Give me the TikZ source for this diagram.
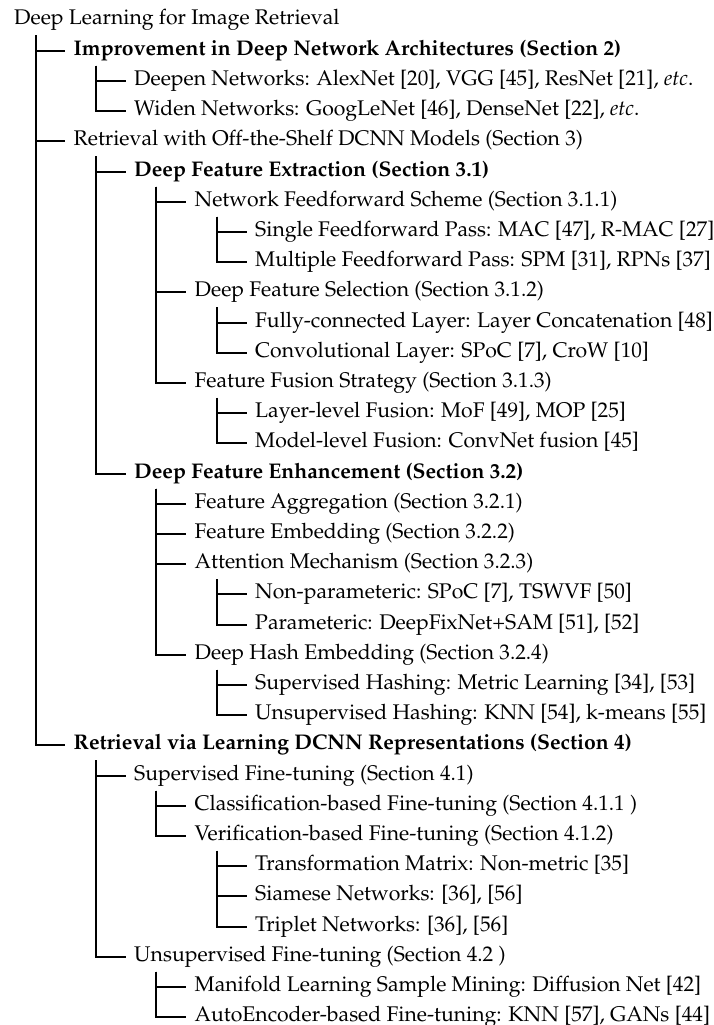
\documentclass[tikz,border=0pt]{standalone}
\usepackage[T1]{fontenc}
\usepackage{mathpazo}
\usetikzlibrary{calc}
\tikzset{
  lab/.style={anchor=west, inner xsep=8.5pt, inner ysep=0pt, text height=13.5pt, text depth=4.5pt, font=\fontsize{21.2}{25}\selectfont},
  tree/.style={line width=2pt, draw=black}
}
\begin{document}
\begin{tikzpicture}[x=1pt, y=-1pt]
\useasboundingbox (0,0) rectangle (714,1025);
\clip (0,0) rectangle (714,1025);
\node[lab] (n1) at (5.5,20.5) {Deep Learning for Image Retrieval};
\node[lab] (n2) at (65,50.7) {\textbf{Improvement in Deep Network Architectures (Section 2)}};
\node[lab] (n3) at (125.5,80.9) {Deepen Networks: AlexNet [20], VGG [45], ResNet [21], \textit{etc}.};
\node[lab] (n4) at (125.5,111.1) {Widen Networks: GoogLeNet [46], DenseNet [22], \textit{etc}.};
\node[lab] (n5) at (65,141.3) {Retrieval with Off-the-Shelf DCNN Models (Section 3)};
\node[lab] (n6) at (125.5,171.5) {\textbf{Deep Feature Extraction (Section 3.1)}};
\node[lab] (n7) at (186,201.7) {Network Feedforward Scheme (Section 3.1.1)};
\node[lab] (n8) at (246.5,231.9) {Single Feedforward Pass: MAC [47], R-MAC [27]};
\node[lab] (n9) at (246.5,262.1) {Multiple Feedforward Pass: SPM [31], RPNs [37]};
\node[lab] (n10) at (186,292.3) {Deep Feature Selection (Section 3.1.2)};
\node[lab] (n11) at (246.5,322.5) {Fully-connected Layer: Layer Concatenation [48]};
\node[lab] (n12) at (246.5,352.7) {Convolutional Layer: SPoC [7], CroW [10]};
\node[lab] (n13) at (186,382.9) {Feature Fusion Strategy (Section 3.1.3)};
\node[lab] (n14) at (246.5,413.1) {Layer-level Fusion: MoF [49], MOP [25]};
\node[lab] (n15) at (246.5,443.3) {Model-level Fusion: ConvNet fusion [45]};
\node[lab] (n16) at (125.5,473.5) {\textbf{Deep Feature Enhancement (Section 3.2)}};
\node[lab] (n17) at (186,503.7) {Feature Aggregation (Section 3.2.1)};
\node[lab] (n18) at (186,533.9) {Feature Embedding (Section 3.2.2)};
\node[lab] (n19) at (186,564.1) {Attention Mechanism (Section 3.2.3)};
\node[lab] (n20) at (246.5,594.3) {Non-parameteric: SPoC [7], TSWVF [50]};
\node[lab] (n21) at (246.5,624.5) {Parameteric: DeepFixNet+SAM [51], [52]};
\node[lab] (n22) at (186,654.7) {Deep Hash Embedding (Section 3.2.4)};
\node[lab] (n23) at (246.5,684.9) {Supervised Hashing: Metric Learning [34], [53]};
\node[lab] (n24) at (246.5,715.1) {Unsupervised Hashing: KNN [54], k-means [55]};
\node[lab] (n25) at (65,745.3) {\textbf{Retrieval via Learning DCNN Representations (Section 4)}};
\node[lab] (n26) at (125.5,775.5) {Supervised Fine-tuning (Section 4.1)};
\node[lab] (n27) at (186,805.7) {Classification-based Fine-tuning (Section 4.1.1 )};
\node[lab] (n28) at (186,835.9) {Verification-based Fine-tuning (Section 4.1.2)};
\node[lab] (n29) at (246.5,866.1) {Transformation Matrix: Non-metric [35]};
\node[lab] (n30) at (246.5,896.3) {Siamese Networks: [36], [56]};
\node[lab] (n31) at (246.5,926.5) {Triplet Networks: [36], [56]};
\node[lab] (n32) at (125.5,956.7) {Unsupervised Fine-tuning (Section 4.2 )};
\node[lab] (n33) at (186,986.9) {Manifold Learning Sample Mining: Diffusion Net [42]};
\node[lab] (n34) at (186,1017.1) {AutoEncoder-based Fine-tuning: KNN [57], GANs [44]};
\foreach \p/\c in {1/2,1/5,1/25,2/3,2/4,5/6,5/16,6/7,6/10,6/13,7/8,7/9,10/11,10/12,13/14,13/15,16/17,16/18,16/19,16/22,19/20,19/21,22/23,22/24,25/26,25/32,26/27,26/28,28/29,28/30,28/31,32/33,32/34}
  \draw[tree] ($(n\p.west)+(30.5,15)$) |- (n\c.west);
\end{tikzpicture}
\end{document}
